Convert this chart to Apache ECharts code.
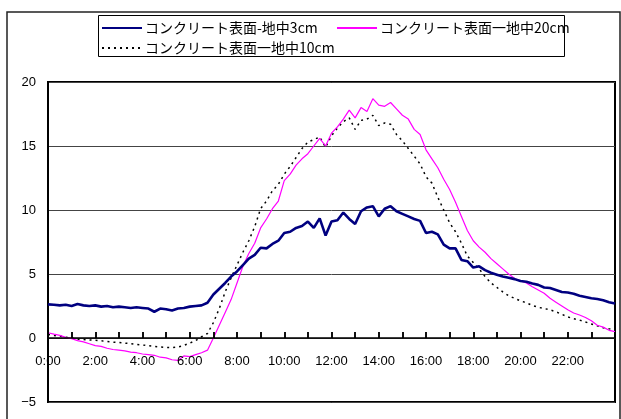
<!DOCTYPE html>
<html>
<head>
<meta charset="utf-8">
<script src="https://cdn.jsdelivr.net/npm/echarts@6/dist/echarts.min.js"></script>
<style>
html,body{margin:0;padding:0;background:#fff;}
#c{width:621px;height:419px;}
</style>
</head>
<body>
<div id="c"></div>
<script>
// 15-minute time labels 0:00 .. 24:00
const times = [];
for (let i = 0; i <= 96; i++) {
  const h = Math.floor(i / 4), m = (i % 4) * 15;
  times.push(h + ':' + (m === 0 ? '00' : m));
}
const yTicks = [-5, 0, 5, 10, 15, 20];
const seriesNames = ['コンクリート表面-地中3cm', 'コンクリート表面一地中20cm', 'コンクリート表面一地中10cm'];

const d3cm = [
  2.63, 2.6, 2.55, 2.6, 2.5, 2.65, 2.55, 2.5, 2.55, 2.45, 2.5, 2.4,
  2.45, 2.4, 2.35, 2.4, 2.35, 2.3, 2.05, 2.3, 2.25, 2.15, 2.3, 2.35,
  2.45, 2.5, 2.55, 2.75, 3.4, 3.85, 4.3, 4.8, 5.2, 5.7, 6.2, 6.5,
  7.05, 7.0, 7.35, 7.6, 8.2, 8.3, 8.6, 8.75, 9.1, 8.6, 9.35, 8.0,
  9.1, 9.2, 9.8, 9.3, 8.9, 9.9, 10.2, 10.3, 9.5, 10.1, 10.3, 9.9,
  9.7, 9.5, 9.3, 9.15, 8.2, 8.3, 8.1, 7.3, 7.0, 7.0, 6.1, 6.0,
  5.5, 5.6, 5.3, 5.1, 4.95, 4.8, 4.7, 4.6, 4.45, 4.4, 4.25, 4.15,
  3.95, 3.9, 3.75, 3.6, 3.55, 3.45, 3.3, 3.2, 3.1, 3.05, 2.95, 2.8, 2.7
];
const d20cm = [
  0.41, 0.3, 0.2, 0.05, -0.05, -0.2, -0.3, -0.45, -0.6, -0.65, -0.8, -0.9,
  -0.95, -1.0, -1.1, -1.15, -1.25, -1.3, -1.35, -1.5, -1.55, -1.7, -1.75, -1.4,
  -1.45, -1.3, -1.15, -0.95, 0.0, 1.0, 2.0, 3.0, 4.3, 5.6, 6.6, 7.4,
  8.6, 9.3, 10.1, 10.7, 12.3, 12.8, 13.5, 14.0, 14.4, 15.0, 15.6, 15.0,
  16.0, 16.5, 17.1, 17.8, 17.2, 18.0, 17.7, 18.7, 18.2, 18.1, 18.4, 17.9,
  17.4, 17.1, 16.3, 15.9, 14.7, 14.0, 13.3, 12.4, 11.6, 10.6, 9.5, 8.4,
  7.6, 7.1, 6.7, 6.2, 5.8, 5.4, 5.0, 4.65, 4.45, 4.3, 4.0, 3.75,
  3.5, 3.1, 2.8, 2.5, 2.2, 1.95, 1.8, 1.6, 1.35, 1.0, 0.85, 0.6, 0.5
];
const d10cm = [
  0.28, 0.2, 0.15, 0.05, 0.0, -0.1, -0.12, -0.15, -0.18, -0.22, -0.28, -0.32,
  -0.35, -0.4, -0.44, -0.5, -0.55, -0.6, -0.65, -0.7, -0.73, -0.75, -0.7, -0.58,
  -0.4, -0.2, 0.1, 0.35, 1.2, 2.3, 3.6, 4.7, 5.7, 6.7, 7.6, 8.7,
  10.1, 10.7, 11.5, 12.0, 12.8, 13.4, 14.1, 14.8, 15.3, 15.5, 15.7, 14.9,
  15.8, 16.4, 16.9, 17.2, 16.3, 17.0, 17.1, 17.4, 16.6, 16.8, 16.7, 15.9,
  15.4, 14.8, 14.2, 13.6, 12.6, 12.1, 11.0, 10.0, 9.0, 8.3, 7.4, 6.4,
  5.9, 5.4, 4.8, 4.3, 3.95, 3.6, 3.3, 3.1, 2.9, 2.75, 2.55, 2.4,
  2.3, 2.2, 2.05, 1.85, 1.65, 1.5, 1.4, 1.25, 1.1, 0.95, 0.8, 0.72, 0.65
];

// convert "h:mm" labels to hours for the value axis
const hours = times.map(function (t) { const p = t.split(':'); return +p[0] + (+p[1]) / 60; });
function pairs(vals) { return vals.map(function (v, i) { return [hours[i], v]; }); }

const chart = echarts.init(document.getElementById('c'), null, {renderer: 'canvas'});
const numFont = '"Liberation Sans", Arial, sans-serif';
const jpFont = '"Noto Sans CJK JP", sans-serif';
function legendAt(name, left, top) {
  return {
    data: [name], left: left, top: top, itemWidth: 40, itemHeight: 12, itemGap: 0,
    padding: 0, selectedMode: false,
    itemStyle: {opacity: 0},
    textStyle: {fontFamily: jpFont, fontSize: 14, color: '#000', padding: [0, 0, 0, -2]}
  };
}
const H = 419, gridTop = 82, gridBottom = 17, plotH = H - gridTop - gridBottom;
const zeroFromBottom = gridBottom + plotH * (0 - yTicks[0]) / (yTicks[yTicks.length - 1] - yTicks[0]);
const tickLen = 6;
chart.setOption({
  animation: false,
  backgroundColor: '#fff',
  graphic: [
    {type: 'rect', shape: {x: 7, y: 12, width: 613, height: 430}, style: {fill: 'none', stroke: '#222', lineWidth: 1.5}, z: 100},
    {type: 'rect', shape: {x: 98.5, y: 15.5, width: 466, height: 41}, style: {fill: 'none', stroke: '#000', lineWidth: 1}, z: 100}
  ],
  legend: [
    legendAt(seriesNames[0], 101, 21),
    legendAt(seriesNames[1], 336, 21),
    legendAt(seriesNames[2], 101, 41)
  ],
  grid: [
    {left: 48, top: gridTop, right: 6, bottom: gridBottom, show: true, borderColor: '#000', borderWidth: 2,
     backgroundColor: 'transparent', containLabel: false, outerBoundsMode: 'none'},
    {left: 48, top: H - zeroFromBottom - tickLen, right: 6, bottom: zeroFromBottom, show: false,
     containLabel: false, outerBoundsMode: 'none', z: 10}
  ],
  xAxis: [
    {type: 'value', gridIndex: 0, min: 0, max: 24, interval: 1, show: false},
    {
      type: 'value', gridIndex: 1, min: 0, max: 24, interval: 1, z: 10,
      axisLine: {show: true, onZero: false, lineStyle: {color: '#000', width: 1.5}},
      axisTick: {show: true, inside: true, length: tickLen, lineStyle: {color: '#000', width: 1.5}},
      axisLabel: {
        showMaxLabel: true, showMinLabel: true, hideOverlap: false,
        margin: 17, fontFamily: numFont, fontSize: 13, color: '#000',
        formatter: function (v) { return (v % 2 === 0 && v < 24) ? times[v * 4] : ''; }
      },
      splitLine: {show: true, lineStyle: {color: '#000', width: 1.5}}
    }
  ],
  yAxis: [
    {
      type: 'value', gridIndex: 0, min: yTicks[0], max: yTicks[yTicks.length - 1], interval: 5,
      axisLine: {show: true, onZero: false, lineStyle: {color: '#000', width: 2}},
      axisTick: {show: false},
      axisLabel: {
        margin: 12, fontFamily: numFont, fontSize: 13, color: '#000',
        formatter: function (v) { return String(v).replace('-', '−'); }
      },
      splitLine: {show: true, lineStyle: {color: '#444', width: 1}}
    },
    {type: 'value', gridIndex: 1, min: 0, max: 1, show: false, splitLine: {show: false}}
  ],
  series: [
    {name: seriesNames[0], type: 'line', data: pairs(d3cm), symbol: 'none', z: 3,
     lineStyle: {color: '#000080', width: 2.6}, itemStyle: {color: '#000080'}},
    {name: seriesNames[1], type: 'line', data: pairs(d20cm), symbol: 'none', z: 2,
     lineStyle: {color: '#FF00FF', width: 1.2}, itemStyle: {color: '#FF00FF'}},
    {name: seriesNames[2], type: 'line', data: pairs(d10cm), symbol: 'none', z: 1,
     lineStyle: {color: '#000', width: 1.5, type: [2, 4]}, itemStyle: {color: '#000'}}
  ]
});
</script>
</body>
</html>
